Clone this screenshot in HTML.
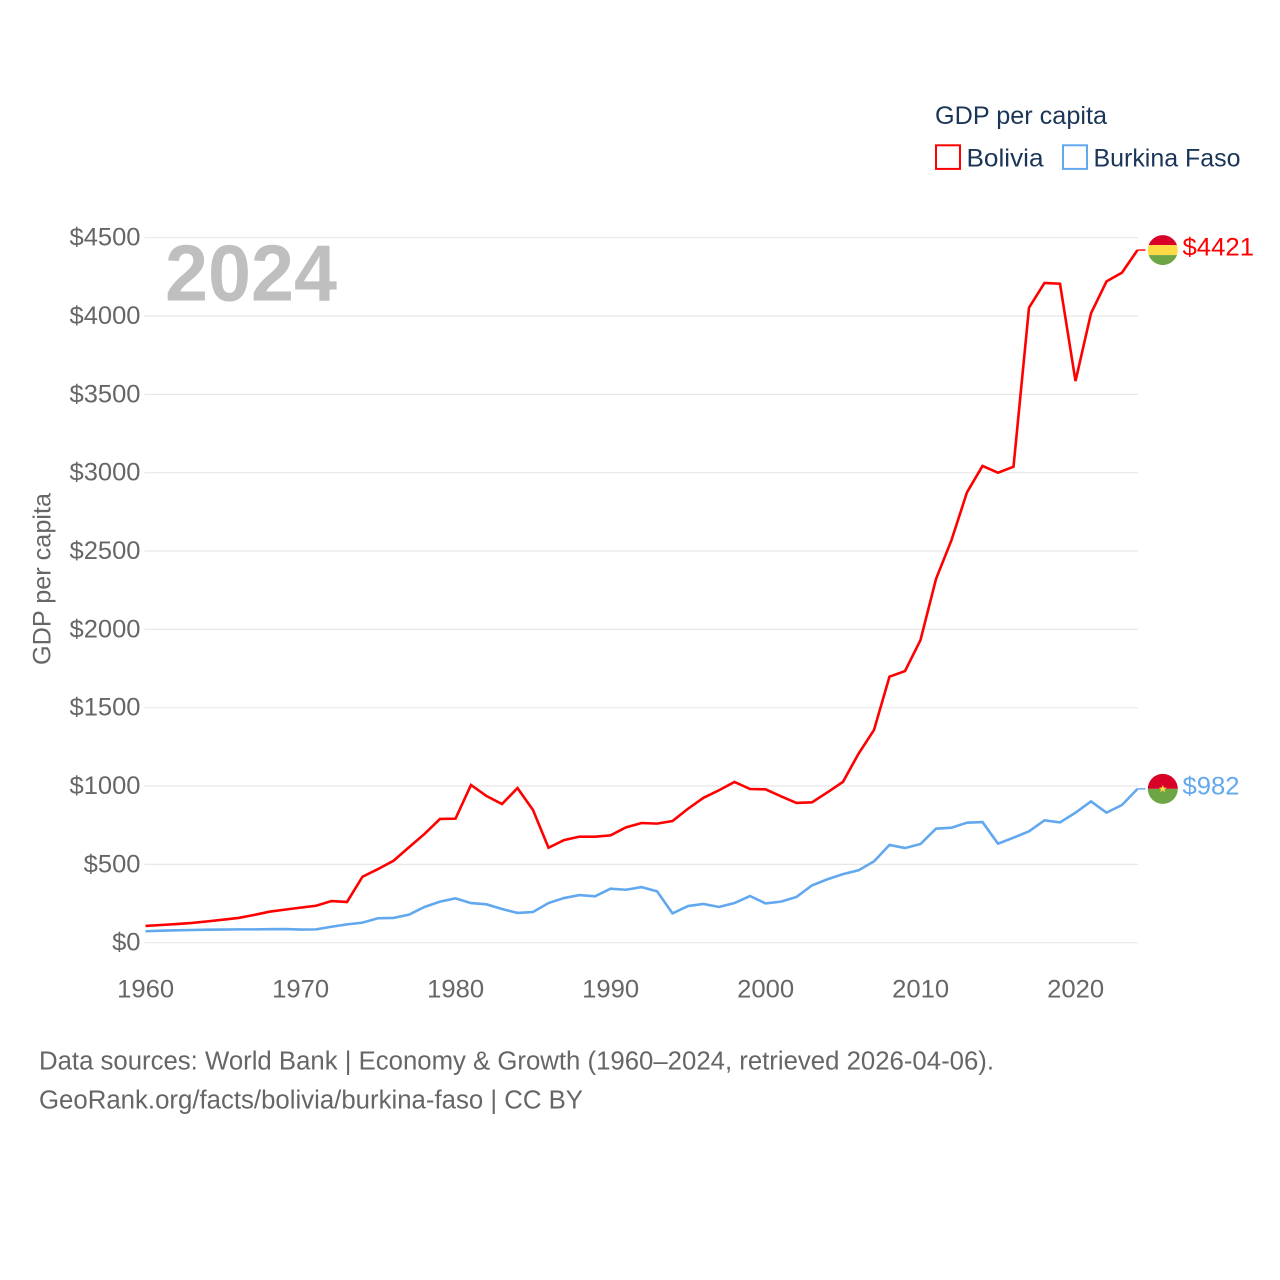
<!DOCTYPE html>
<html lang="en">
<head>
<meta charset="utf-8">
<title>GDP per capita: Bolivia and Burkina Faso</title>
<style>
html,body{margin:0;padding:0;background:#fff;width:1280px;height:1280px;overflow:hidden}
svg{display:block}
text{font-family:"Liberation Sans",sans-serif}
</style>
</head>
<body>
<svg id="chart" xmlns="http://www.w3.org/2000/svg" width="1280" height="1280" viewBox="0 0 1280 1280">
  <rect x="0" y="0" width="1280" height="1280" fill="#ffffff"/>
  <g id="grid"></g>
  <g id="y-ticks"></g>
  <g id="x-ticks"></g>
  <text x="165" y="300.5" font-size="80" font-weight="700" fill="#bfbfbf" textLength="172" lengthAdjust="spacingAndGlyphs">2024</text>
  <text transform="translate(50.5,665) rotate(-90)" font-size="25" fill="#666666" textLength="172" lengthAdjust="spacingAndGlyphs">GDP per capita</text>
  <g id="series"></g>
  <g id="end-labels"></g>

  <g>
    <text x="935" y="124" font-size="25" fill="#1a3557" textLength="172" lengthAdjust="spacingAndGlyphs">GDP per capita</text>
    <g>
      <rect x="936" y="145.3" width="24" height="23.6" fill="none" stroke="#ff0000" stroke-width="2"/>
      <text x="966.5" y="166.5" font-size="25" fill="#1a3557" textLength="77" lengthAdjust="spacingAndGlyphs">Bolivia</text>
    </g>
    <g>
      <rect x="1063" y="145.3" width="24" height="23.6" fill="none" stroke="#62a8ef" stroke-width="2"/>
      <text x="1093.5" y="166.5" font-size="25" fill="#1a3557" textLength="147" lengthAdjust="spacingAndGlyphs">Burkina Faso</text>
    </g>
  </g>

  <g>
    <text x="39" y="1069.5" font-size="25.5" fill="#666666" textLength="955" lengthAdjust="spacingAndGlyphs">Data sources: World Bank | Economy &amp; Growth (1960–2024, retrieved 2026-04-06).</text>
    <text x="39" y="1108.5" font-size="25.5" fill="#666666" textLength="544" lengthAdjust="spacingAndGlyphs">GeoRank.org/facts/bolivia/burkina-faso | CC BY</text>
  </g>

  <defs>
    <clipPath id="flag-clip"><circle cx="0" cy="0" r="15"/></clipPath>
  </defs>
</svg>

<script>
const years = [1960,1961,1962,1963,1964,1965,1966,1967,1968,1969,1970,1971,1972,1973,1974,1975,1976,1977,1978,1979,1980,1981,1982,1983,1984,1985,1986,1987,1988,1989,1990,1991,1992,1993,1994,1995,1996,1997,1998,1999,2000,2001,2002,2003,2004,2005,2006,2007,2008,2009,2010,2011,2012,2013,2014,2015,2016,2017,2018,2019,2020,2021,2022,2023,2024];
const boliviaValues = [107,113,119,126,136,147,158,177,198,211,224,236,266,260,421,470,523,609,694,790,792,1007,936,885,987,847,606,655,677,677,685,736,764,760,777,855,925,973,1026,981,979,934,892,896,960,1027,1206,1358,1698,1734,1932,2321,2570,2875,3043,3000,3038,4053,4211,4206,3585,4017,4221,4277,4421];
const burkinaValues = [73,77,79,81,83,84,85,85,86,87,84,85,102,117,128,156,158,179,228,262,283,253,245,215,190,196,253,285,304,296,345,338,355,328,187,234,247,228,253,298,251,262,292,366,405,438,462,519,624,604,630,728,734,766,770,632,670,711,781,768,830,902,830,879,982];
const yTickValues = [0,500,1000,1500,2000,2500,3000,3500,4000,4500];
const xTickValues = [1960,1970,1980,1990,2000,2010,2020];

const NS = 'http://www.w3.org/2000/svg';
const xScale = v => 145.5 + (v - 1960) * (1137.5 - 145.5) / (2024 - 1960);
const yScale = v => 942.7 - v * (942.7 - 237.7) / 4500;
const money = v => '$' + v;

function make(tag, attrs, parent, content) {
  const el = document.createElementNS(NS, tag);
  for (const k in attrs) el.setAttribute(k, attrs[k]);
  if (content !== undefined) el.textContent = content;
  parent.appendChild(el);
  return el;
}

const gridG = document.getElementById('grid');
const yG = document.getElementById('y-ticks');
yTickValues.forEach(v => {
  const line = make('line', {x1: 144.5, x2: 1138, y1: yScale(v), y2: yScale(v), stroke: '#e8e8e8', 'stroke-width': 1.2}, gridG);
  
  
  const label = money(v);
  const t = make('text', {x: 140.5, y: yScale(v) + 8, 'font-size': 25, fill: '#666666', 'text-anchor': 'end', textLength: 14.2 * label.length, lengthAdjust: 'spacingAndGlyphs'}, yG, label);
  
  
});

const xG = document.getElementById('x-ticks');
xTickValues.forEach(v => {
  const t = make('text', {x: xScale(v) + 0.1, y: 997.7, 'font-size': 25, fill: '#666666', 'text-anchor': 'middle', textLength: 57, lengthAdjust: 'spacingAndGlyphs'}, xG, String(v));
  
  
});

function linePath(values) {
  const pts = values.map((v, i) => xScale(years[i]).toFixed(2) + ',' + yScale(v).toFixed(2));
  return 'M' + pts.join('L');
}

const lastYear = years[years.length - 1];
const seriesG = document.getElementById('series');
const bolLine = make('path', {d: linePath(boliviaValues), fill: 'none', stroke: '#ff0000', 'stroke-width': 2.6, 'stroke-linejoin': 'miter'}, seriesG);


const burLine = make('path', {d: linePath(burkinaValues), fill: 'none', stroke: '#62a8ef', 'stroke-width': 2.6, 'stroke-linejoin': 'miter'}, seriesG);



const endG = document.getElementById('end-labels');
const flagX = xScale(lastYear) + 25.3;
const labelX = xScale(lastYear) + 45;

const bolY = yScale(boliviaValues[boliviaValues.length - 1]);
const bolLeader = make('line', {x1: xScale(lastYear), x2: xScale(lastYear) + 8, y1: bolY, y2: bolY, stroke: '#ff0000', 'stroke-width': 1.4}, endG);


const bolFlag = make('g', {transform: 'translate(' + flagX + ',' + bolY + ')', 'clip-path': 'url(#flag-clip)'}, endG);


make('rect', {x: -16, y: -16, width: 32, height: 11, fill: '#d80027'}, bolFlag);
make('rect', {x: -16, y: -5, width: 32, height: 10, fill: '#ffda44'}, bolFlag);
make('rect', {x: -16, y: 5, width: 32, height: 11, fill: '#6da544'}, bolFlag);
const bolText = make('text', {x: labelX, y: bolY + 5.5, 'font-size': 25, fill: '#ff0000', textLength: 71.5, lengthAdjust: 'spacingAndGlyphs'}, endG, money(boliviaValues[boliviaValues.length - 1]));



const burY = yScale(burkinaValues[burkinaValues.length - 1]);
const burLeader = make('line', {x1: xScale(lastYear), x2: xScale(lastYear) + 8, y1: burY, y2: burY, stroke: '#62a8ef', 'stroke-width': 1.4}, endG);


const burFlag = make('g', {transform: 'translate(' + flagX + ',' + burY + ')', 'clip-path': 'url(#flag-clip)'}, endG);


make('rect', {x: -16, y: -16, width: 32, height: 16, fill: '#d80027'}, burFlag);
make('rect', {x: -16, y: 0, width: 32, height: 16, fill: '#6da544'}, burFlag);
make('polygon', {points: '0,-4 1.1,-1.2 4,-1.2 1.7,0.6 2.5,3.4 0,1.7 -2.5,3.4 -1.7,0.6 -4,-1.2 -1.1,-1.2', fill: '#ffda44'}, burFlag);
const burText = make('text', {x: labelX, y: burY + 5.5, 'font-size': 25, fill: '#62a8ef', textLength: 57, lengthAdjust: 'spacingAndGlyphs'}, endG, money(burkinaValues[burkinaValues.length - 1]));


</script>
</body>
</html>
